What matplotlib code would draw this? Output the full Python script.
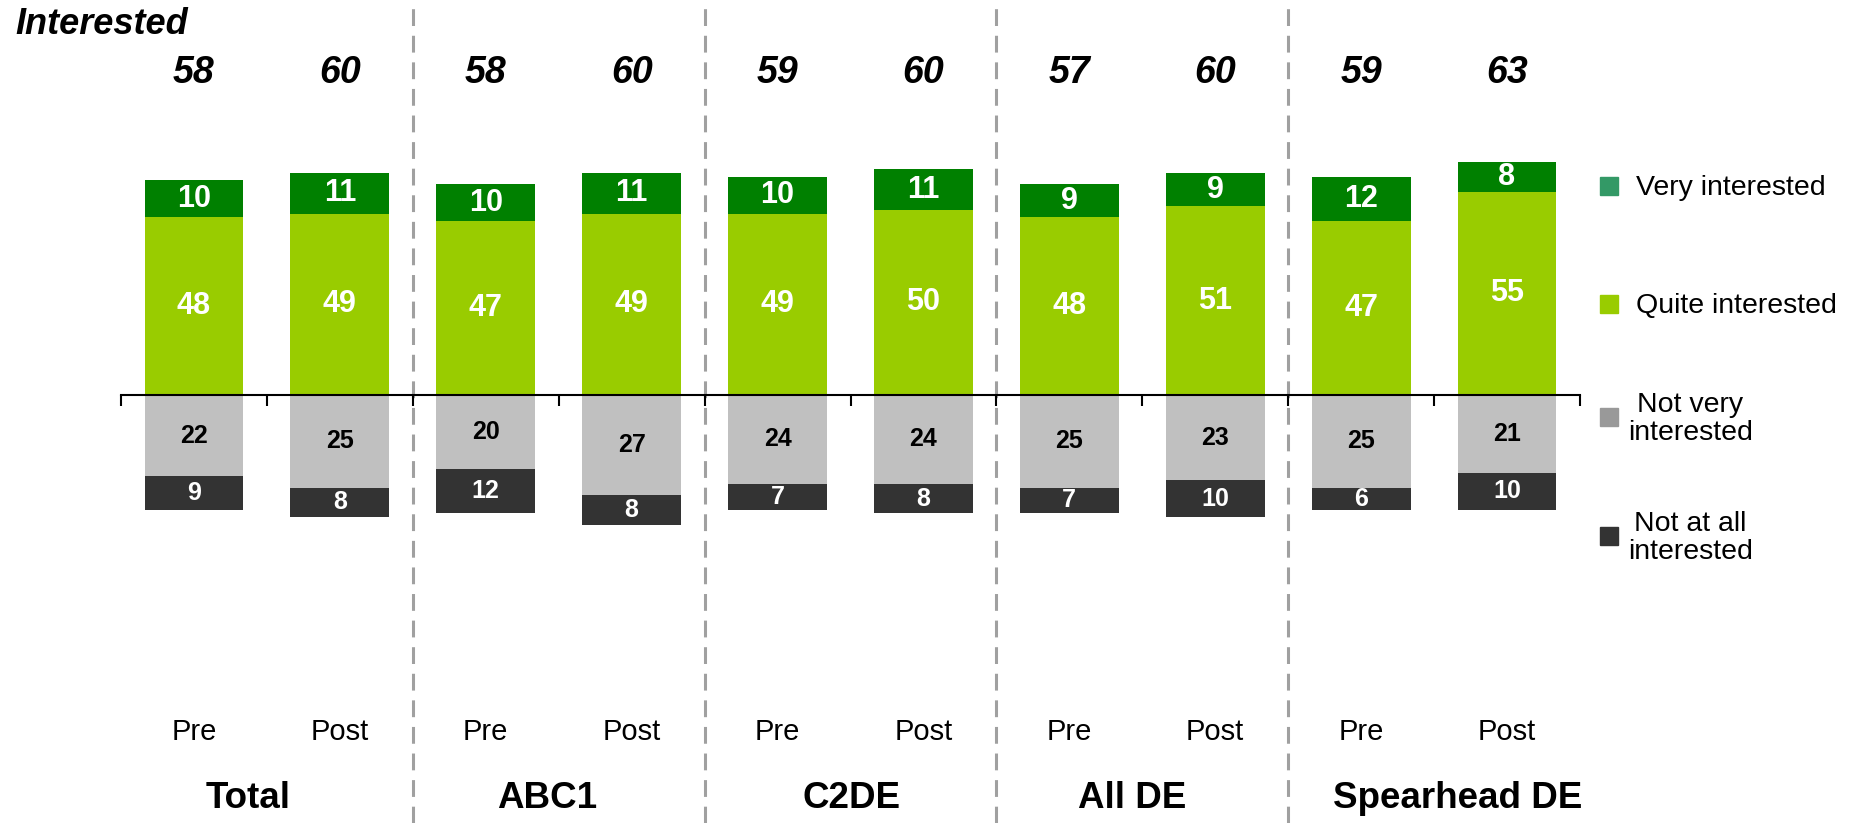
import numpy as np
import matplotlib.pyplot as plt
from matplotlib.patches import Rectangle
from matplotlib.transforms import blended_transform_factory

plt.rcParams['font.family'] = ['Liberation Sans', 'DejaVu Sans']

groups = ['Total', 'ABC1', 'C2DE', 'All DE', 'Spearhead DE']
waves = ['Pre', 'Post']
very = [10, 11, 10, 11, 10, 11, 9, 9, 12, 8]
quite = [48, 49, 47, 49, 49, 50, 48, 51, 47, 55]
not_very = [22, 25, 20, 27, 24, 24, 25, 23, 25, 21]
not_at_all = [9, 8, 12, 8, 7, 8, 7, 10, 6, 10]
interested = [58, 60, 58, 60, 59, 60, 57, 60, 59, 63]

legend_labels = ['Very interested', 'Quite interested', 'Not very\ninterested', 'Not at all\ninterested']
bar_colors = ['#008000', '#99CC00', '#C0C0C0', '#333333']
legend_colors = ['#339966', '#99CC00', '#999999', '#333333']

# group labels are not quite centred in the original
group_shift = [-0.13, -0.08, 0.01, -0.07, 0.16]

W, H = 1854, 823
fig = plt.figure(figsize=(W / 100, H / 100), dpi=100)
ax = fig.add_axes([121 / W, 0, 1459 / W, 1])
scale = 3.7  # px per unit
axis_px = 395
ax.set_xlim(0, 10)
ax.set_ylim(-(H - axis_px) / scale, axis_px / scale)

x = np.arange(10) + 0.5
very = np.array(very)
quite = np.array(quite)
not_very = np.array(not_very)
not_at_all = np.array(not_at_all)
bw = 0.677

ax.bar(x, quite, bw, color=bar_colors[1], zorder=2)
ax.bar(x, very, bw, bottom=quite, color=bar_colors[0], zorder=2)
ax.bar(x, -not_very, bw, color=bar_colors[2], zorder=2)
ax.bar(x, -not_at_all, bw, bottom=-not_very, color=bar_colors[3], zorder=2)

for i in range(10):
    ax.text(x[i], quite[i] / 2, str(quite[i]), ha='center', va='center',
            color='white', fontsize=22, fontweight='bold', zorder=3)
    ax.text(x[i], quite[i] + very[i] / 2, str(very[i]), ha='center', va='center',
            color='white', fontsize=22, fontweight='bold', zorder=3)
    ax.text(x[i], -not_very[i] / 2, str(not_very[i]), ha='center', va='center',
            color='black', fontsize=18, fontweight='bold', zorder=3)
    ax.text(x[i], -not_very[i] - not_at_all[i] / 2, str(not_at_all[i]), ha='center',
            va='center', color='white', fontsize=18, fontweight='bold', zorder=3)

# axis line with ticks at category boundaries
for s in ['top', 'right', 'left']:
    ax.spines[s].set_visible(False)
ax.spines['bottom'].set_position(('data', 0))
ax.spines['bottom'].set_linewidth(1.5)
ax.spines['bottom'].set_zorder(4)
ax.set_xticks(np.arange(11))
ax.tick_params(axis='x', direction='out', length=8, width=1.5, labelbottom=False)
ax.set_yticks([])
ax.patch.set_visible(False)

trans = blended_transform_factory(ax.transData, fig.transFigure)

# dashed group separators
for b in [2, 4, 6, 8]:
    ax.plot([b, b], [0, 1], transform=trans, color='#A0A0A0', lw=2.2,
            dashes=(5.5, 3.2), clip_on=False, zorder=1)

for i in range(10):
    ax.text(x[i], 1 - 73 / H, str(interested[i]), transform=trans, ha='center',
            va='center', fontsize=27, fontweight='bold', fontstyle='italic')
    ax.text(x[i], 1 - 732 / H, waves[i % 2], transform=trans, ha='center',
            va='center', fontsize=21)

for g, name in enumerate(groups):
    ax.text(2 * g + 1 + group_shift[g], 1 - 798 / H, name, transform=trans,
            ha='center', va='center', fontsize=26.5, fontweight='bold')

fig.text(15 / W, 1 - 24 / H, 'Interested', ha='left', va='center',
         fontsize=26, fontweight='bold', fontstyle='italic')

# legend
leg_y = [186, 304, 417, 536]
for lab, col, yy in zip(legend_labels, legend_colors, leg_y):
    fig.patches.append(Rectangle((1600 / W, 1 - (yy + 9) / H), 18 / W, 18 / H,
                                 transform=fig.transFigure, color=col))
    fig.text(1636 / W if '\n' not in lab else 1628 / W, 1 - (yy + 2) / H, lab,
             ha='left', va='center', fontsize=20.5,
             multialignment='center', linespacing=1.1)

fig.savefig('out.png', dpi=100)
